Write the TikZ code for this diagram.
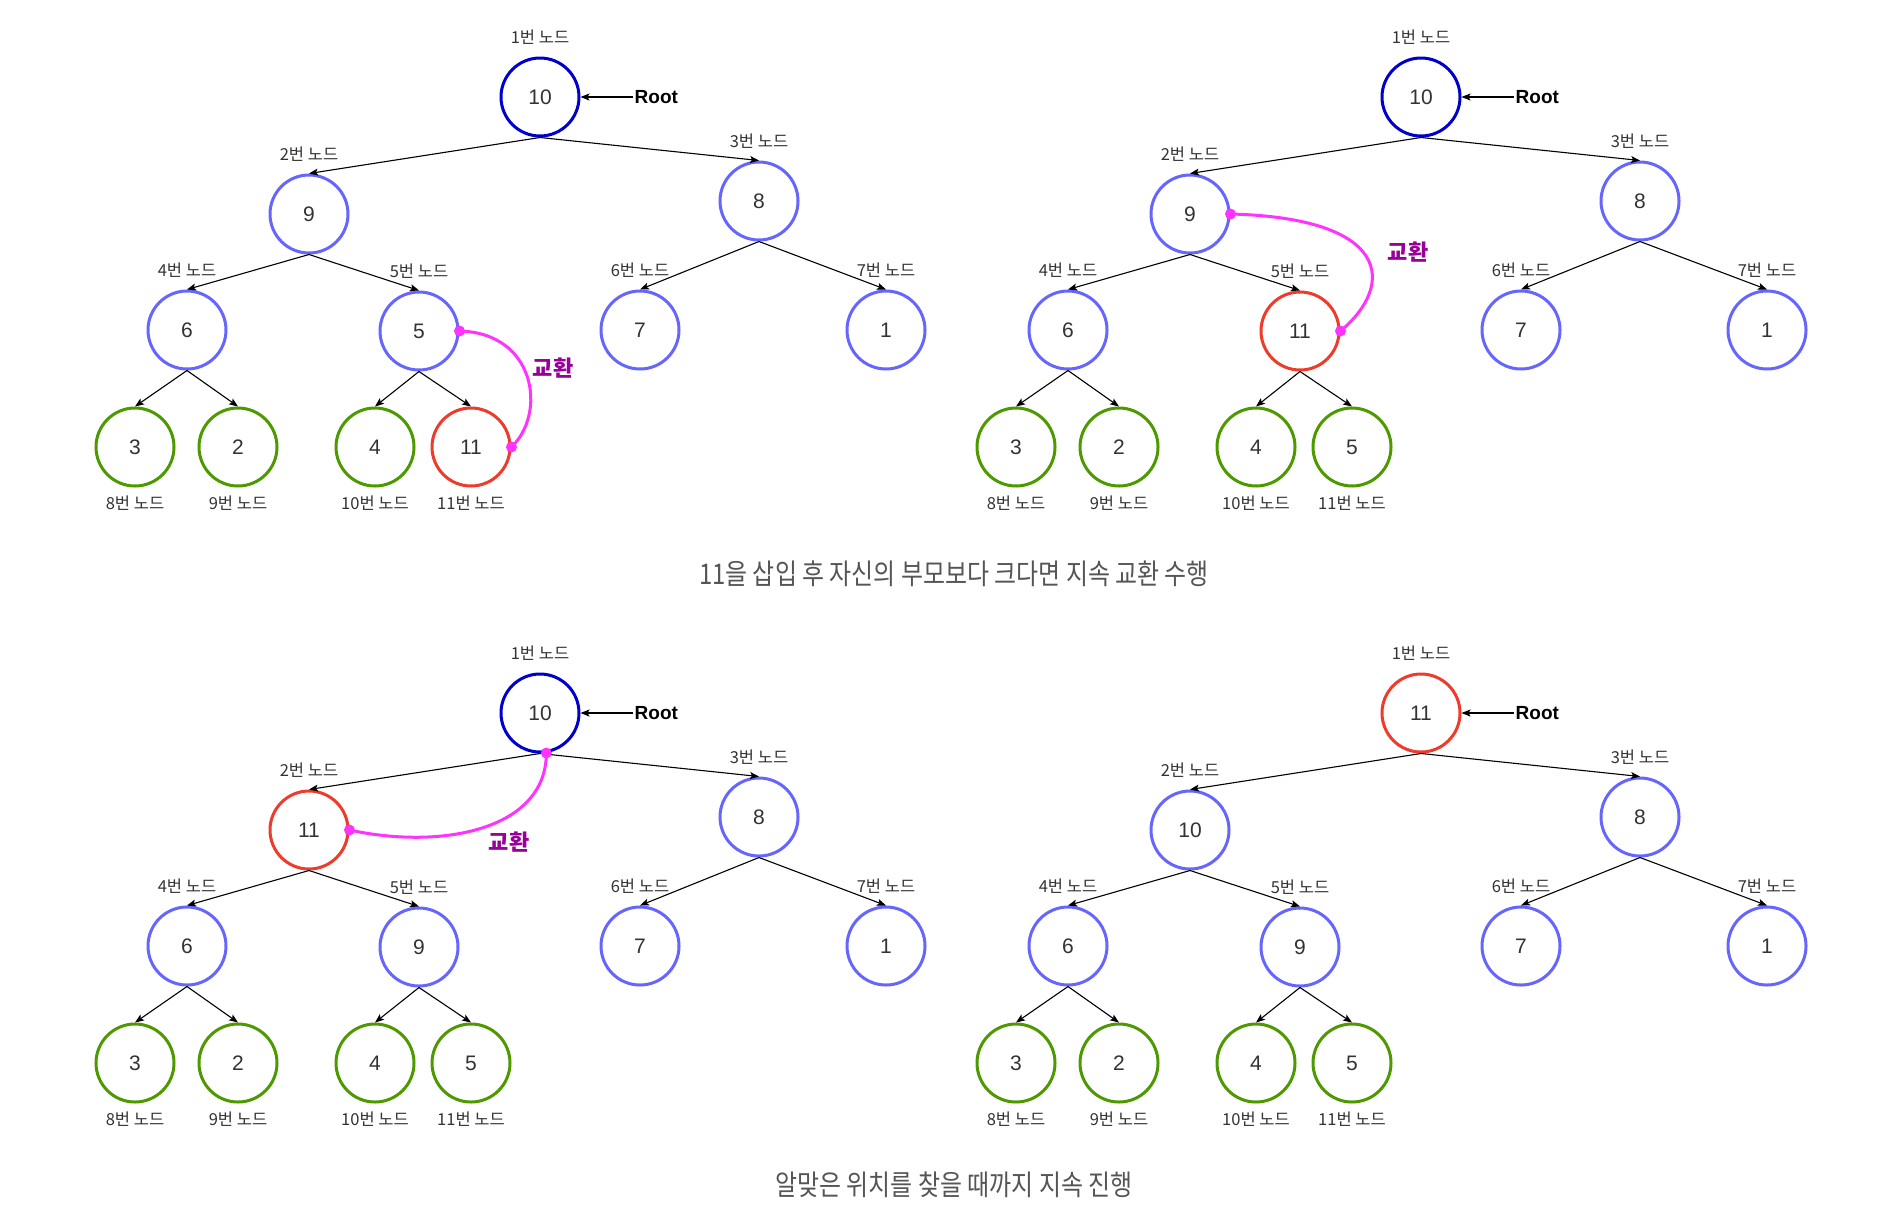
\documentclass[tikz,border=0pt]{standalone}
\usepackage{fontspec}
\setmainfont{Liberation Sans}
\newfontfamily\krfont{Noto Sans CJK KR}
\newfontfamily\capfont[FakeStretch=0.84]{Noto Sans CJK KR}
\usetikzlibrary{positioning,arrows.meta}

\definecolor{rootblue}{HTML}{0000CC}
\definecolor{nodeblue}{HTML}{6666FF}
\definecolor{leafgreen}{HTML}{4D9900}
\definecolor{swapred}{HTML}{EE3B2B}
\definecolor{swappink}{HTML}{FF33FF}
\definecolor{swaptext}{HTML}{990099}
\definecolor{lblgray}{HTML}{333333}
\definecolor{capgray}{HTML}{555555}

% node positions of one heap (pixel coordinates, y down)
\newcommand{\heapx}{{540,309,759,187,419,640,886,135,238,375,471}}
\newcommand{\heapy}{{97,214,201,330,331,330,330,447,447,447,447}}

\tikzset{
  hnode/.style={draw, circle, minimum size=78pt, inner sep=0pt, line width=3pt,
    text=lblgray, font=\fontsize{21}{21}\selectfont},
  rootc/.style={hnode, draw=rootblue},
  midc/.style={hnode, draw=nodeblue},
  leafc/.style={hnode, draw=leafgreen},
  hotc/.style={hnode, draw=swapred},
  lbl/.style={inner sep=0pt, text=lblgray, font=\krfont\fontsize{16.5}{17}\selectfont},
  rootlbl/.style={inner sep=2pt, font=\bfseries\fontsize{19}{19}\selectfont},
  link/.style={-{Stealth[length=9pt,width=7pt,inset=2pt]}, line width=1.1pt},
  swapline/.style={swappink, line width=3pt},
  swaplbl/.style={text=swaptext, font=\krfont\bfseries\fontsize{22}{22}\selectfont},
  captxt/.style={text=capgray, font=\capfont\fontsize{28.5}{29}\selectfont},
}

% #1 = name prefix, #2 = list of index/value/style
\newcommand{\drawheap}[2]{%
  \foreach \n/\v/\s in {#2} {
    \pgfmathsetmacro{\px}{\heapx[\n-1]}
    \pgfmathsetmacro{\py}{\heapy[\n-1]}
    \pgfmathsetmacro{\ly}{\n<8 ? \py-60 : \py+56}
    \node[\s] (#1\n) at (\px,\py) {\v};
    \node[lbl] (#1l\n) at (\px,\ly) {\n{}번 노드};
  }
  \foreach \a/\b in {1/2,1/3,2/4,2/5,3/6,3/7,4/8,4/9,5/10,5/11}
    \draw[link] (#1\a.south) -- (#1\b.north);
  \node[rootlbl, right=52pt of #11] (#1root) {Root};
  \draw[link] (#1root) -- (#11);
}

\begin{document}
\begin{tikzpicture}[x=1pt, y=-1pt]
  \fill[white] (0,0) rectangle (1894,1216);
  \useasboundingbox (0,0) rectangle (1894,1216);

  % top left
  \drawheap{a}{1/10/rootc, 2/9/midc, 3/8/midc, 4/6/midc, 5/5/midc, 6/7/midc, 7/1/midc,
    8/3/leafc, 9/2/leafc, 10/4/leafc, 11/11/hotc}
  % top right
  \begin{scope}[shift={(881,0)}]
    \drawheap{b}{1/10/rootc, 2/9/midc, 3/8/midc, 4/6/midc, 5/11/hotc, 6/7/midc, 7/1/midc,
      8/3/leafc, 9/2/leafc, 10/4/leafc, 11/5/leafc}
  \end{scope}
  % bottom left
  \begin{scope}[shift={(0,616)}]
    \drawheap{c}{1/10/rootc, 2/11/hotc, 3/8/midc, 4/6/midc, 5/9/midc, 6/7/midc, 7/1/midc,
      8/3/leafc, 9/2/leafc, 10/4/leafc, 11/5/leafc}
  \end{scope}
  % bottom right
  \begin{scope}[shift={(881,616)}]
    \drawheap{d}{1/11/hotc, 2/10/midc, 3/8/midc, 4/6/midc, 5/9/midc, 6/7/midc, 7/1/midc,
      8/3/leafc, 9/2/leafc, 10/4/leafc, 11/5/leafc}
  \end{scope}

  % swaps
  \draw[swapline] (a5.east) .. controls +(77,2) and +(35,-33) .. (a11.east);
  \fill[swappink] (a5.east) circle (5.5pt) (a11.east) circle (5.5pt);
  \node[swaplbl] (aswap) at (553,368) {교환};

  \draw[swapline] (b2.east) .. controls +(161,4) and +(55,-46) .. (b5.east);
  \fill[swappink] (b2.east) circle (5.5pt) (b5.east) circle (5.5pt);
  \node[swaplbl] (bswap) at (1408,252) {교환};

  \draw[swapline] (c1.-81) .. controls +(0,77) and +(92,20) .. (c2.east);
  \fill[swappink] (c1.-81) circle (5.5pt) (c2.east) circle (5.5pt);
  \node[swaplbl] (cswap) at (509,842) {교환};

  % captions
  \node[captxt] (cap1) at (954,574) {11을 삽입 후 자신의 부모보다 크다면 지속 교환 수행};
  \node[captxt] (cap2) at (954,1185) {알맞은 위치를 찾을 때까지 지속 진행};
\end{tikzpicture}
\end{document}
